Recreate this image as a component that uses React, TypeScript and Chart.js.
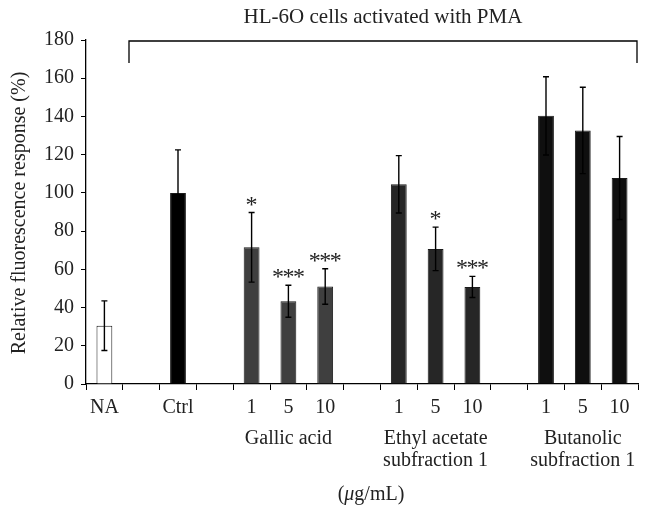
import React, { useEffect, useRef } from "react";
import { Chart, registerables } from "chart.js";

Chart.register(...registerables);

const categories = ["NA", "", "Ctrl", "", "1", "5", "10", "", "1", "5", "10", "", "1", "5", "10"];
const values: (number | null)[] = [30.5, null, 100, null, 71.5, 43.3, 51, null, 104.5, 70.7, 50.8, null, 140.3, 132.7, 107.8];
const errors: (number | null)[] = [13, null, 22.5, null, 18.2, 8.4, 9.3, null, 15, 11.4, 5.5, null, 20.5, 22.6, 21.7];
const stars: string[] = ["", "", "", "", "*", "***", "***", "", "", "*", "***", "", "", "", ""];
const barColors = ["#ffffff", "#ffffff", "#000000", "#000000", "#3f3f3f", "#3f3f3f", "#3f3f3f", "#262626", "#262626", "#262626", "#262626", "#0f0f0f", "#0f0f0f", "#0f0f0f", "#0f0f0f"];
const groupLabels = [
  { index: 5, lines: ["Gallic acid"] },
  { index: 9, lines: ["Ethyl acetate", "subfraction 1"] },
  { index: 13, lines: ["Butanolic", "subfraction 1"] },
];
const yTicks = [0, 20, 40, 60, 80, 100, 120, 140, 160, 180];
const titleText = "HL-6O cells activated with PMA";
const yTitle = "Relative fluorescence response (%)";

const FONT = "'Liberation Serif', 'Times New Roman', serif";

const decorPlugin = {
  id: "decor",
  afterDatasetsDraw(chart: any) {
    const ctx = chart.ctx;
    const meta = chart.getDatasetMeta(0);
    const ys = chart.scales.y;
    ctx.save();
    ctx.strokeStyle = "#000";
    ctx.lineWidth = 1.4;
    meta.data.forEach((bar: any, i: number) => {
      const v = values[i];
      const e = errors[i];
      if (v == null || e == null) return;
      const x = bar.x;
      const yTop = ys.getPixelForValue(v + e);
      const yBot = ys.getPixelForValue(v - e);
      ctx.beginPath();
      ctx.moveTo(x, yTop);
      ctx.lineTo(x, yBot);
      ctx.moveTo(x - 3, yTop);
      ctx.lineTo(x + 3, yTop);
      ctx.moveTo(x - 3, yBot);
      ctx.lineTo(x + 3, yBot);
      ctx.stroke();
      const s = stars[i];
      if (s) {
        ctx.fillStyle = "#222";
        ctx.font = `24px ${FONT}`;
        ctx.textAlign = "center";
        ctx.textBaseline = "alphabetic";
        const w = 10.5;
        const n = s.length;
        for (let k = 0; k < n; k++) {
          const cx = x + (k - (n - 1) / 2) * w;
          ctx.fillText("*", cx, yTop - 1);
        }
      }
    });
    ctx.restore();
  },
  afterDraw(chart: any) {
    const ctx = chart.ctx;
    const xs = chart.scales.x;
    ctx.save();
    ctx.fillStyle = "#222";
    ctx.textAlign = "center";
    ctx.textBaseline = "middle";
    ctx.font = `21px ${FONT}`;
    ctx.fillText(titleText, 383, 17);
    ctx.strokeStyle = "#000";
    ctx.lineWidth = 1.3;
    ctx.beginPath();
    ctx.moveTo(129, 63);
    ctx.lineTo(129, 41);
    ctx.lineTo(637, 41);
    ctx.lineTo(637, 63);
    ctx.stroke();
    ctx.font = `20px ${FONT}`;
    groupLabels.forEach((g) => {
      const x = xs.getPixelForValue(g.index);
      g.lines.forEach((ln, j) => {
        ctx.fillText(ln, x, 439 + j * 22);
      });
    });
    ctx.textAlign = "left";
    const p1 = "(";
    const p2 = "\u03bc";
    const p3 = "g/mL)";
    ctx.font = `20px ${FONT}`;
    const w1 = ctx.measureText(p1).width;
    const w3 = ctx.measureText(p3).width;
    ctx.font = `italic 20px ${FONT}`;
    const w2 = ctx.measureText(p2).width;
    const x0 = 371 - (w1 + w2 + w3) / 2;
    ctx.font = `20px ${FONT}`;
    ctx.fillText(p1, x0, 495);
    ctx.font = `italic 20px ${FONT}`;
    ctx.fillText(p2, x0 + w1, 495);
    ctx.font = `20px ${FONT}`;
    ctx.fillText(p3, x0 + w1 + w2, 495);
    ctx.translate(20, 213);
    ctx.rotate(-Math.PI / 2);
    ctx.textAlign = "center";
    ctx.font = `20px ${FONT}`;
    ctx.fillText(yTitle, 0, 0);
    ctx.restore();
  },
};

export default function App() {
  const ref = useRef<HTMLCanvasElement | null>(null);
  useEffect(() => {
    document.body.style.margin = "0";
    const canvas = ref.current;
    if (!canvas) return;
    const chart = new Chart(canvas, {
      type: "bar",
      data: {
        labels: categories,
        datasets: [
          {
            data: values,
            backgroundColor: barColors,
            borderColor: "#1a1a1a",
            borderWidth: 1,
            categoryPercentage: 1,
            barPercentage: 0.43,
          },
        ],
      },
      options: {
        animation: false,
        responsive: false,
        maintainAspectRatio: false,
        devicePixelRatio: 1,
        layout: { padding: { top: 40, right: 18, left: 0, bottom: 0 } },
        plugins: {
          legend: { display: false },
          tooltip: { enabled: false },
        },
        scales: {
          x: {
            grid: {
              display: true,
              offset: true,
              drawOnChartArea: false,
              drawTicks: true,
              tickLength: 6,
              color: "#000",
              lineWidth: 1,
            },
            border: { display: true, color: "#000", width: 1.3 },
            ticks: {
              color: "#222",
              font: { family: FONT, size: 20 },
              padding: 6,
              maxRotation: 0,
              autoSkip: false,
            },
            afterFit(scale: any) {
              scale.height = 523 - 384;
            },
          },
          y: {
            min: 0,
            max: 180,
            afterBuildTicks(scale: any) {
              scale.ticks = yTicks.map((v) => ({ value: v }));
            },
            grid: {
              display: true,
              drawOnChartArea: false,
              drawTicks: true,
              tickLength: 5,
              color: "#000",
              lineWidth: 1,
            },
            border: { display: true, color: "#000", width: 1.3 },
            ticks: {
              color: "#222",
              font: { family: FONT, size: 20 },
              padding: 7,
            },
            afterFit(scale: any) {
              scale.width = 86;
            },
          },
        },
      },
      plugins: [decorPlugin],
    });
    return () => chart.destroy();
  }, []);
  return (
    <div style={{ width: 656, height: 523, background: "#fff" }}>
      <canvas ref={ref} width={656} height={523} style={{ width: 656, height: 523, display: "block" }} />
    </div>
  );
}
